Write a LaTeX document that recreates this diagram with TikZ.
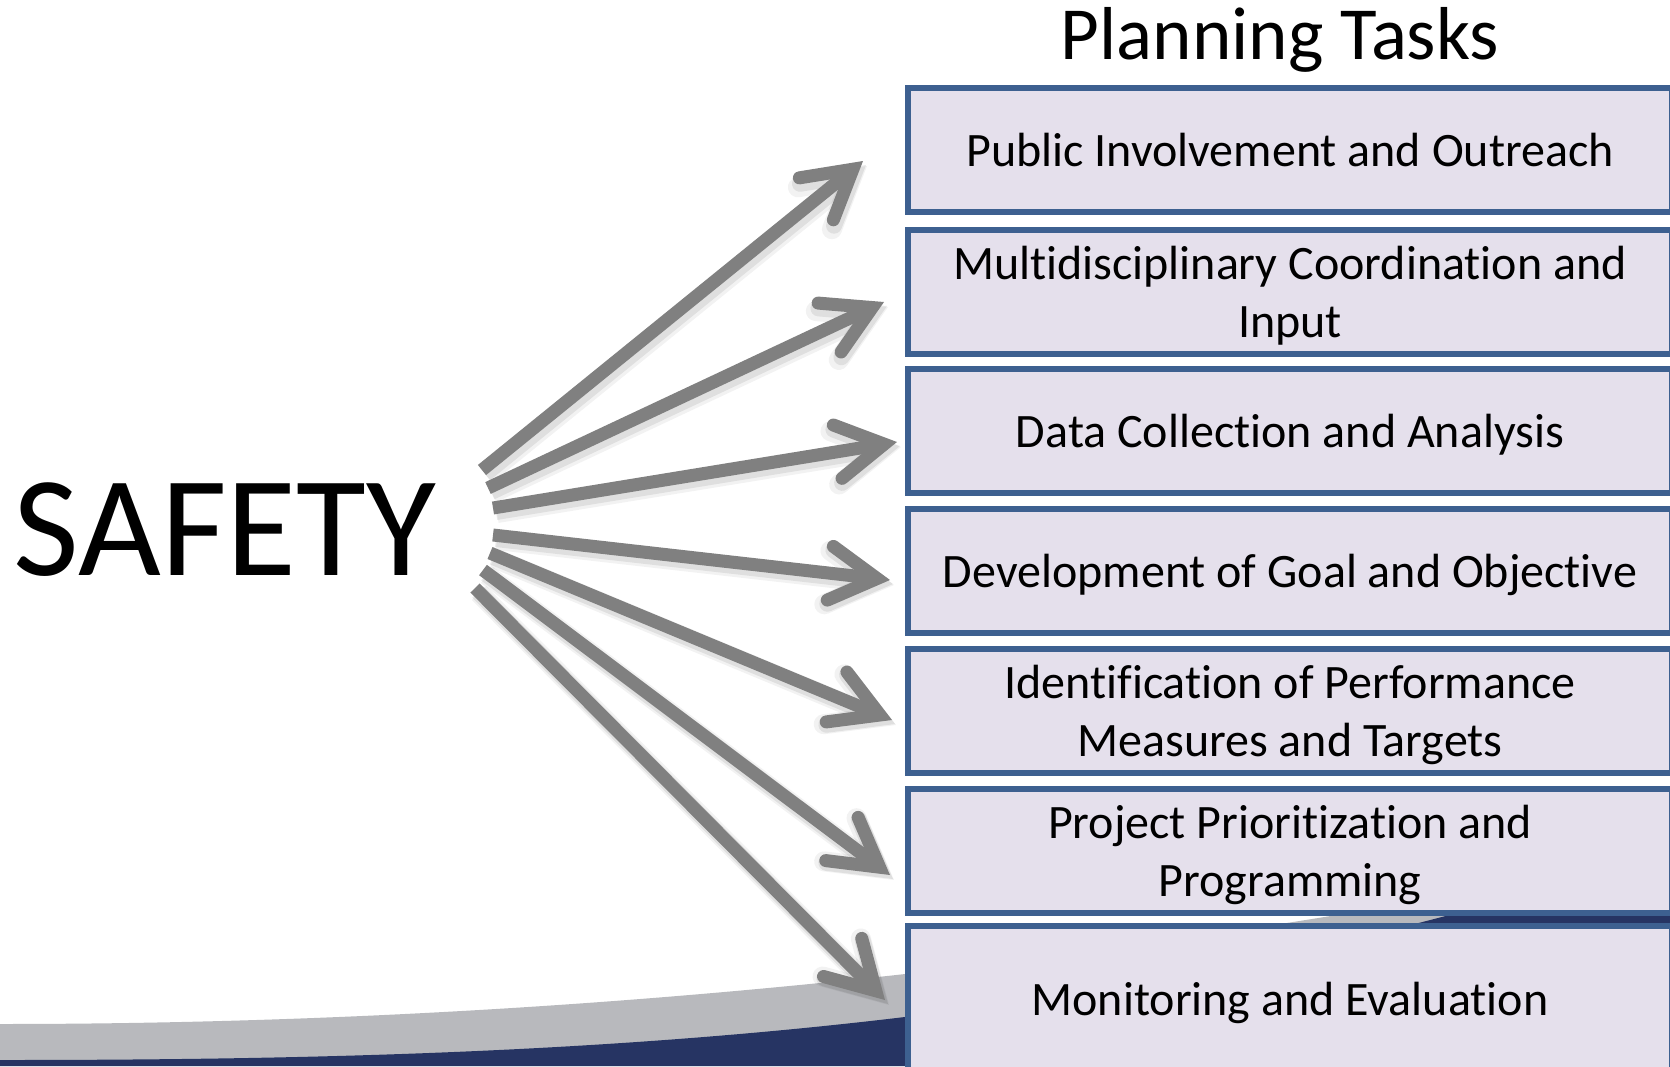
\documentclass[tikz,border=0pt]{standalone}
\usepackage{fontspec}
\setmainfont{Carlito}[Ligatures={NoCommon,NoContextual}]
\usetikzlibrary{arrows.meta}
\definecolor{boxfill}{HTML}{E5E0EC}
\definecolor{boxline}{HTML}{3D6090}
\definecolor{arrgray}{HTML}{808080}
\definecolor{bandgray}{HTML}{B8B9BD}
\definecolor{navyband}{HTML}{263463}
\newcommand{\ppstrut}{\rule[-0.25em]{0pt}{1.2em}}
\begin{document}
\begin{tikzpicture}[x=1pt,y=-1pt,
  task/.style={draw=boxline, fill=boxfill, line width=6pt, minimum width=764pt,
    minimum height=124pt, inner sep=0pt, align=center,
    font=\fontsize{48}{58.6}\selectfont},
  arr/.style={draw=arrgray, line width=13pt, line cap=butt,
    -{Straight Barb[length=47pt,width=54pt,line cap=round,line join=miter]}},
  arrshadow/.style={draw=black, line width=#1, line cap=butt,
    -{Straight Barb[length=47pt,width=54pt,line cap=round,line join=miter]}}
]
\clip (0,0) rectangle (1670,1066);
\useasboundingbox (0,0) rectangle (1670,1066);
\fill[white] (0,0) rectangle (1670,1066);
% bottom swoosh
\fill[bandgray] plot[domain=0:1670,samples=80] (\x,{1024-61*(\x/1000)^2}) -- (1670,1066) -- (0,1066) -- cycle;
\fill[navyband] plot[domain=0:1670,samples=80] (\x,{1060-25.1*(\x/1000)^2-30.3*(\x/1000)^3}) -- (1670,1066) -- (0,1066) -- cycle;

% titles
\node[font=\fontsize{143}{170}\selectfont, anchor=base, inner sep=0pt] (safety) at (225,575) {SAFETY};
\node[font=\fontsize{75}{90}\selectfont, anchor=base, inner sep=0pt] (title) at (1280,59) {Planning Tasks};

% task boxes
\node[task] (t1) at (1290,150) {\ppstrut Public Involvement and Outreach};
\node[task] (t2) at (1290,291.5) {\ppstrut Multidisciplinary Coordination and\\\ppstrut Input};
\node[task] (t3) at (1290,431) {\ppstrut Data Collection and Analysis};
\node[task] (t4) at (1290,571) {\ppstrut Development of Goal and Objective};
\node[task] (t5) at (1290,710.5) {\ppstrut Identification of Performance\\\ppstrut Measures and Targets};
\node[task] (t6) at (1290,850.5) {\ppstrut Project Prioritization and\\\ppstrut Programming};
\node[task, minimum height=146pt] (t7) at (1290,999) {\ppstrut Monitoring and Evaluation};

% arrow end points
\coordinate (s1) at (482,470); \coordinate (e1) at (863,161);
\coordinate (s2) at (488,488); \coordinate (e2) at (884,302);
\coordinate (s3) at (493,508); \coordinate (e3) at (897,442);
\coordinate (s4) at (493,535); \coordinate (e4) at (890,580);
\coordinate (s5) at (490,553); \coordinate (e5) at (892,720);
\coordinate (s6) at (483,570); \coordinate (e6) at (890,875);
\coordinate (s7) at (475,588); \coordinate (e7) at (885,1000);

\foreach \i in {1,...,7}{
  \draw[arrshadow=20pt, opacity=0.05, transform canvas={shift={(4pt,-5pt)}}] (s\i) -- (e\i);
  \draw[arrshadow=16pt, opacity=0.08, transform canvas={shift={(3pt,-4pt)}}] (s\i) -- (e\i);
}
\foreach \i in {1,...,7}{
  \draw[arr] (s\i) -- (e\i);
}
\end{tikzpicture}
\end{document}
